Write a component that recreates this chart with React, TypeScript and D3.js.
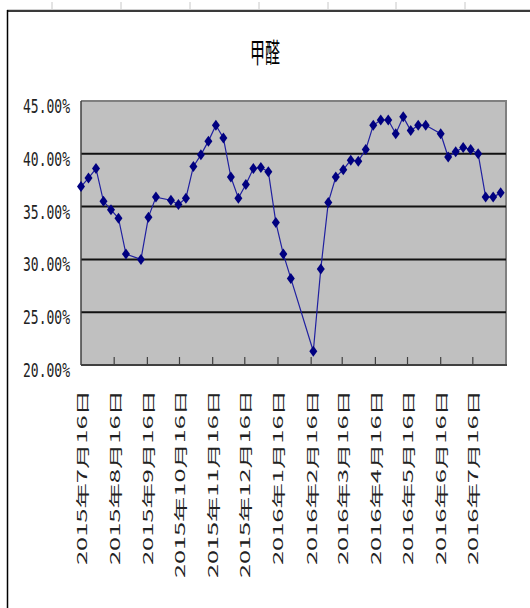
import React from "react";
import * as d3 from "d3";

const TITLE = "甲醛";
const DATES = [
  "2015-07-16","2015-07-23","2015-07-30","2015-08-06","2015-08-13","2015-08-20","2015-08-27",
  "2015-09-10","2015-09-17","2015-09-24","2015-10-08","2015-10-15","2015-10-22","2015-10-29",
  "2015-11-05","2015-11-12","2015-11-19","2015-11-26","2015-12-03","2015-12-10","2015-12-17",
  "2015-12-24","2015-12-31","2016-01-07","2016-01-14","2016-01-21","2016-01-28","2016-02-18",
  "2016-02-25","2016-03-03","2016-03-10","2016-03-17","2016-03-24","2016-03-31","2016-04-07",
  "2016-04-14","2016-04-21","2016-04-28","2016-05-05","2016-05-12","2016-05-19","2016-05-26",
  "2016-06-02","2016-06-16","2016-06-23","2016-06-30","2016-07-07","2016-07-14","2016-07-21",
  "2016-07-28","2016-08-04","2016-08-11"
];
const VALUES = [
  36.9, 37.7, 38.6, 35.5, 34.7, 33.9, 30.5,
  30.0, 34.0, 35.9, 35.6, 35.2, 35.8, 38.8,
  39.9, 41.2, 42.7, 41.5, 37.8, 35.8, 37.1,
  38.6, 38.7, 38.3, 33.5, 30.5, 28.2, 21.3,
  29.1, 35.4, 37.8, 38.5, 39.4, 39.3, 40.4,
  42.7, 43.2, 43.2, 41.9, 43.5, 42.2, 42.7,
  42.7, 41.9, 39.7, 40.2, 40.6, 40.4, 40.0,
  35.9, 35.9, 36.3
];
const Y_TICKS = [20, 25, 30, 35, 40, 45];
const X_TICK_DATES = [
  "2015-07-16","2015-08-16","2015-09-16","2015-10-16","2015-11-16","2015-12-16",
  "2016-01-16","2016-02-16","2016-03-16","2016-04-16","2016-05-16","2016-06-16","2016-07-16"
];
const X_DOMAIN_END = "2016-08-16";

const parse = d3.utcParse("%Y-%m-%d");
const fmtLabel = (d: Date) =>
  `${d.getUTCFullYear()}年${d.getUTCMonth() + 1}月${d.getUTCDate()}日`;

export default function App() {
  const W = 530, H = 608;
  const left = 81, right = 506, top = 101, bottom = 365;
  const x = d3.scaleUtc()
    .domain([parse(X_TICK_DATES[0])!, parse(X_DOMAIN_END)!])
    .range([left, right]);
  const y = d3.scaleLinear().domain([20, 45]).range([bottom, top]);
  const data = DATES.map((d, i) => ({ date: parse(d)!, v: VALUES[i] }));
  const line = d3.line<{ date: Date; v: number }>()
    .x(d => x(d.date))
    .y(d => y(d.v));
  const rulerTicks = [52, 121, 190, 259, 328, 396, 465];
  const diamond = "M0,-5.5L4,0L0,5.5L-4,0Z";
  const labelLen = (s: string) => {
    let n = 0;
    for (const c of s) n += /[0-9]/.test(c) ? 13 : 28;
    return n;
  };
  return (
    <div style={{ position: "absolute", left: 0, top: 0 }}>
      <svg width={W} height={H} style={{ display: "block", background: "#fff" }}>
        {/* ruler at top */}
        {rulerTicks.map((t, i) => (
          <line key={i} x1={t} x2={t} y1={2} y2={10} stroke="#c8c8c8" strokeWidth={1} />
        ))}
        <line x1={7} x2={W} y1={9.5} y2={9.5} stroke="#d0d0d0" strokeWidth={1} />
        <line x1={7} x2={W} y1={11} y2={11} stroke="#3a3a3a" strokeWidth={2} />
        <line x1={7.5} x2={7.5} y1={10} y2={H} stroke="#000" strokeWidth={1.5} />

        {/* title */}
        <text
          transform="translate(265,63) scale(1,1.85)"
          textAnchor="middle"
          fontFamily="'Noto Sans CJK SC', sans-serif"
          fontSize={15}
          fill="#000"
        >{TITLE}</text>

        {/* plot area */}
        <rect x={left} y={top} width={right - left} height={bottom - top} fill="#c0c0c0" />
        <line x1={left} x2={right + 1} y1={top} y2={top} stroke="#808080" strokeWidth={2} />
        <line x1={right} x2={right} y1={top} y2={bottom} stroke="#808080" strokeWidth={2} />
        {Y_TICKS.filter(t => t !== 20 && t !== 45).map(t => (
          <line key={t} x1={left} x2={right} y1={y(t)} y2={y(t)} stroke="#111" strokeWidth={2} />
        ))}
        <line x1={left} x2={left} y1={top} y2={bottom} stroke="#404040" strokeWidth={1.5} />
        <line x1={left} x2={right + 1} y1={bottom} y2={bottom} stroke="#404040" strokeWidth={2} />
        {X_TICK_DATES.slice(1).map(d => (
          <line key={d} x1={x(parse(d)!)} x2={x(parse(d)!)} y1={bottom - 8} y2={bottom}
            stroke="#404040" strokeWidth={1.2} />
        ))}

        {/* series */}
        <path d={line(data) || ""} fill="none" stroke="#2020a0" strokeWidth={1.2} />
        {data.map((d, i) => (
          <path key={i} d={diamond}
            transform={`translate(${x(d.date)},${y(d.v)})`} fill="#000080" />
        ))}

        {/* y labels */}
        {Y_TICKS.map(t => (
          <text key={t}
            transform={`translate(70,${y(t) + 12}) scale(1,1.45)`}
            textAnchor="end"
            fontFamily="'DejaVu Sans Mono', monospace"
            fontSize={13}
            fill="#222"
          >{t.toFixed(2)}%</text>
        ))}

        {/* x labels */}
        {X_TICK_DATES.map(d => {
          const s = fmtLabel(parse(d)!);
          return (
            <text key={d}
              transform={`translate(${x(parse(d)!)},390) rotate(-90)`}
              textAnchor="end"
              dominantBaseline="central"
              fontFamily="'Noto Sans CJK SC', sans-serif"
              fontSize={13}
              textLength={labelLen(s)}
              lengthAdjust="spacingAndGlyphs"
              fill="#222"
            >{s}</text>
          );
        })}
      </svg>
    </div>
  );
}
